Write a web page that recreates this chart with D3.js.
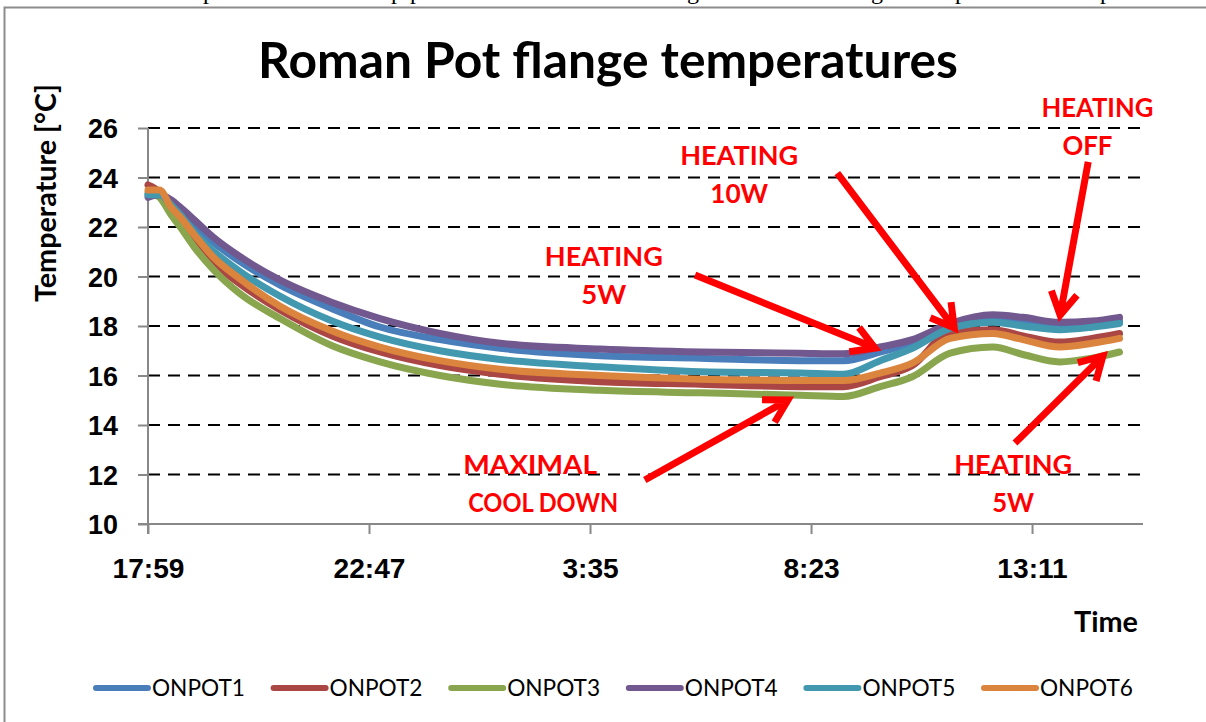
<!DOCTYPE html>
<html>
<head>
<meta charset="utf-8">
<script src="https://cdn.jsdelivr.net/npm/d3@7"></script>
<style>
  body { margin: 0; background: #fff; }
  svg { display: block; font-family: Lato, "Open Sans", sans-serif; }
</style>
</head>
<body>
<div id="chart"></div>
<script>
// hours after 17:59
const hours = [0, 0.25, 0.5, 0.7, 1.0, 1.41, 2.0, 2.87, 4.0, 5.04, 6.34, 7.65, 9.82, 12.0, 14.16, 15.1, 15.9, 16.6, 17.42, 18.35, 19.0, 19.8, 20.5, 21.1];

const seriesNames = ["ONPOT1", "ONPOT2", "ONPOT3", "ONPOT4", "ONPOT5", "ONPOT6"];
const seriesColors = ["#4A7EBB", "#AA4643", "#89A54E", "#71588F", "#4198AF", "#DB843D"];

const onpot1 = [23.3, 23.3, 23.0, 22.6, 22.1, 21.4, 20.6, 19.65, 18.7, 17.96, 17.45, 17.1, 16.8, 16.7, 16.6, 16.6, 16.95, 17.3, 18.05, 18.3, 18.2, 18.05, 18.1, 18.2];
const onpot2 = [23.7, 23.4, 22.7, 22.3, 21.6, 20.6, 19.7, 18.65, 17.6, 16.95, 16.4, 16.05, 15.75, 15.65, 15.55, 15.55, 15.95, 16.4, 17.75, 17.85, 17.6, 17.35, 17.5, 17.7];
const onpot3 = [23.4, 23.2, 22.5, 22.0, 21.2, 20.3, 19.3, 18.3, 17.2, 16.55, 16.0, 15.65, 15.4, 15.3, 15.2, 15.15, 15.55, 15.95, 16.9, 17.15, 16.85, 16.55, 16.7, 16.95];
const onpot4 = [23.2, 23.3, 23.1, 22.8, 22.3, 21.6, 20.8, 19.85, 18.95, 18.3, 17.7, 17.3, 17.07, 16.95, 16.9, 16.88, 17.15, 17.45, 18.1, 18.45, 18.35, 18.15, 18.2, 18.35];
const onpot5 = [23.3, 23.3, 22.9, 22.5, 21.8, 21.05, 20.2, 19.2, 18.2, 17.55, 17.0, 16.65, 16.35, 16.15, 16.1, 16.05, 16.6, 17.1, 17.9, 18.15, 18.0, 17.85, 17.95, 18.1];
const onpot6 = [23.5, 23.5, 22.8, 22.4, 21.7, 20.8, 19.9, 18.8, 17.8, 17.15, 16.6, 16.25, 16.0, 15.85, 15.8, 15.8, 16.1, 16.5, 17.5, 17.7, 17.45, 17.15, 17.3, 17.5];
const seriesValues = [onpot1, onpot2, onpot3, onpot4, onpot5, onpot6];

const xTickHours = [0, 4.8, 9.6, 14.4, 19.2];
const xTickLabels = ["17:59", "22:47", "3:35", "8:23", "13:11"];
const yTicks = [10, 12, 14, 16, 18, 20, 22, 24, 26];

// annotations: text lines, label anchor (hours, degC), arrow from -> to (hours, degC)
const noteLines = [["HEATING", "10W"], ["HEATING", "5W"], ["HEATING", "OFF"], ["MAXIMAL", "COOL DOWN"], ["HEATING", "5W"]];
const noteAnchor = [[12.84, 24.5], [9.9, 20.42], [20.62, 26.44], [8.3, 12.02], [18.79, 12.02]];
const arrowFrom = [[14.97, 24.18], [11.88, 20.06], [20.42, 24.63], [10.79, 11.78], [18.83, 13.27]];
const arrowTo = [[17.51, 17.92], [15.79, 17.11], [19.81, 18.44], [13.9, 15.01], [20.74, 16.79]];

// layout of annotation text (second line offset, widths of each line in px)
const noteShift = [0, 0, -10, 13, 0];
const noteWidths = [[118, 58], [118, 45], [112, 50], [134, 150], [118, 42]];

const W = 1206, H = 722;
const plot = {left: 148, right: 1143, top: 128, bottom: 524};

const svg = d3.select("#chart").append("svg").attr("width", W).attr("height", H);

function fitWidth(sel, w) {
  sel.each(function () {
    const fs = parseFloat(d3.select(this).style("font-size"));
    const len = this.getComputedTextLength();
    d3.select(this).style("font-size", (fs * w / len) + "px");
  });
}

// bits of the page text above the chart
const frag = svg.append("g").attr("font-family", "'Liberation Serif', serif").attr("font-size", 24).attr("fill", "#000");
[[203, "p"], [391, "p"], [410, "p"], [687, "g"], [871, "g"], [955, "p"], [1100, "p"]].forEach(function (d) {
  frag.append("text").attr("x", d[0]).attr("y", -1).text(d[1]);
});

// chart frame
svg.append("path").attr("d", "M4.5," + H + "V7.5H" + W)
  .attr("fill", "none").attr("stroke", "#8c8c8c").attr("stroke-width", 2);

const x = d3.scaleLinear().domain([0, 21.61]).range([plot.left, plot.right]);
const y = d3.scaleLinear().domain([10, 26]).range([plot.bottom, plot.top]);

// title
svg.append("text").attr("x", 608).attr("y", 78).attr("text-anchor", "middle")
  .attr("font-weight", "bold").style("font-size", "46px").text("Roman Pot flange temperatures")
  .call(fitWidth, 700);

// grid
svg.append("g").selectAll("line").data(yTicks.filter(d => d > 10)).enter().append("line")
  .attr("x1", plot.left).attr("x2", plot.right)
  .attr("y1", d => y(d)).attr("y2", d => y(d))
  .attr("stroke", "#000").attr("stroke-width", 2).attr("stroke-dasharray", "12,8");

// y axis
const yAxis = svg.append("g").attr("transform", "translate(" + plot.left + ",0)")
  .call(d3.axisLeft(y).tickValues(yTicks).tickSize(10).tickPadding(20));
yAxis.select(".domain").attr("stroke", "#888").attr("stroke-width", 2).attr("d", "M0," + plot.top + "V" + (plot.bottom + 10));
yAxis.selectAll(".tick line").attr("stroke", "#888").attr("stroke-width", 2);
yAxis.selectAll(".tick text").attr("font-family", null).attr("font-weight", "bold")
  .style("font-size", "27px").attr("fill", "#000").attr("dy", "0.36em");
fitWidth(yAxis.selectAll(".tick text").filter(d => d === 26), 30);
yAxis.selectAll(".tick text").style("font-size", yAxis.selectAll(".tick text").filter(d => d === 26).style("font-size"));

// x axis
const xAxis = svg.append("g").attr("transform", "translate(0," + plot.bottom + ")")
  .call(d3.axisBottom(x).tickValues(xTickHours).tickFormat((d, i) => xTickLabels[i]).tickSize(10).tickPadding(24));
xAxis.select(".domain").attr("stroke", "#888").attr("stroke-width", 2).attr("d", "M" + (plot.left - 10) + ",0H" + plot.right);
xAxis.selectAll(".tick line").attr("stroke", "#888").attr("stroke-width", 2);
xAxis.selectAll(".tick text").attr("font-family", null).attr("font-weight", "bold")
  .style("font-size", "27px").attr("fill", "#000").attr("dy", "0.71em");
fitWidth(xAxis.selectAll(".tick text").filter(d => d === 0), 72);
xAxis.selectAll(".tick text").style("font-size", xAxis.selectAll(".tick text").filter(d => d === 0).style("font-size"));

// axis titles
svg.append("text").attr("transform", "translate(56,193) rotate(-90)").attr("text-anchor", "middle")
  .attr("font-weight", "bold").style("font-size", "22px").text("Temperature [°C]").call(fitWidth, 218);
svg.append("text").attr("x", 1106).attr("y", 632).attr("text-anchor", "middle")
  .attr("font-weight", "bold").style("font-size", "26px").text("Time").call(fitWidth, 64);

// series
const line = d3.line().x((d, i) => x(hours[i])).y(d => y(d)).curve(d3.curveMonotoneX);
svg.append("g").selectAll("path").data(seriesValues).enter().append("path")
  .attr("d", line).attr("fill", "none")
  .attr("stroke", (d, i) => seriesColors[i]).attr("stroke-width", 7)
  .attr("stroke-linecap", "round").attr("stroke-linejoin", "round");

// annotations: one font size for all, width squeezed to the reference
const red = "#ff0000";
const notes = svg.append("g");
const probe = notes.append("text").attr("font-weight", "bold").style("font-size", "27px").text("HEATING");
fitWidth(probe, 118);
const noteSize = probe.style("font-size");
probe.remove();
noteLines.forEach(function (lines, i) {
  const ax = x(noteAnchor[i][0]), ay = y(noteAnchor[i][1]);
  lines.forEach(function (t, j) {
    notes.append("text").attr("x", ax + (j ? noteShift[i] : 0)).attr("y", ay + j * 38)
      .attr("text-anchor", "middle").attr("font-weight", "bold").attr("fill", red)
      .style("font-size", noteSize).attr("textLength", noteWidths[i][j])
      .attr("lengthAdjust", "spacingAndGlyphs").text(t);
  });
});

arrowFrom.forEach(function (f, i) {
  const x1 = x(f[0]), y1 = y(f[1]), x2 = x(arrowTo[i][0]), y2 = y(arrowTo[i][1]);
  const a = Math.atan2(y2 - y1, x2 - x1), hl = 26, ha = Math.PI / 6;
  const p = d3.path();
  p.moveTo(x1, y1); p.lineTo(x2, y2);
  p.moveTo(x2 - hl * Math.cos(a - ha), y2 - hl * Math.sin(a - ha));
  p.lineTo(x2, y2);
  p.lineTo(x2 - hl * Math.cos(a + ha), y2 - hl * Math.sin(a + ha));
  notes.append("path").attr("d", p.toString()).attr("fill", "none").attr("stroke", red)
    .attr("stroke-width", 7).attr("stroke-linejoin", "miter");
});

// legend
const legend = svg.append("g").attr("transform", "translate(0,688)");
const item = legend.selectAll("g").data(seriesNames).enter().append("g")
  .attr("transform", (d, i) => "translate(" + (152 + i * 177.6) + ",0)");
item.append("line").attr("x1", -56).attr("x2", -4).attr("y1", 0).attr("y2", 0)
  .attr("stroke", (d, i) => seriesColors[i]).attr("stroke-width", 6).attr("stroke-linecap", "round");
item.append("text").attr("x", 0).attr("dy", "0.35em").style("font-size", "21px").attr("fill", "#000")
  .text(d => d).call(fitWidth, 93);
</script>
</body>
</html>
